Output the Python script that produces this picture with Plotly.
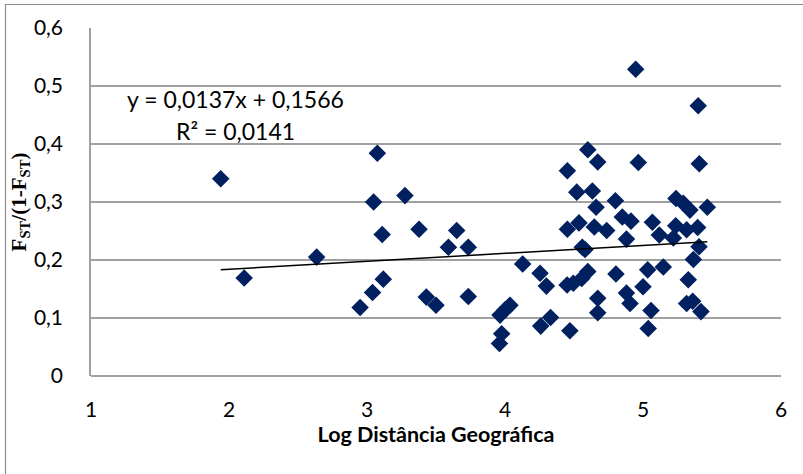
import plotly.graph_objects as go

log_dist = [1.94, 2.11, 2.635, 2.95, 3.04, 3.048, 3.075, 3.11, 3.118, 3.275,
            3.377, 3.43, 3.50, 3.59, 3.65, 3.734, 3.734, 3.96, 3.976, 3.964,
            4.0, 4.036, 4.128, 4.254, 4.30, 4.259, 4.33, 4.47, 4.452, 4.52,
            4.452, 4.536, 4.56, 4.58, 4.495, 4.556, 4.60, 4.45, 4.60, 4.672,
            4.633, 4.66, 4.647, 4.737, 4.672, 4.672, 4.80, 4.804, 4.85, 4.913,
            4.88, 4.88, 4.906, 4.947, 4.966, 5.068, 5.118, 5.034, 5.00, 5.147,
            5.058, 5.038, 5.239, 5.292, 5.34, 5.237, 5.22, 5.316, 5.396, 5.40,
            5.408, 5.466, 5.406, 5.365, 5.328, 5.316, 5.36, 5.42]
fst_ratio = [0.340, 0.169, 0.205, 0.118, 0.144, 0.300, 0.384, 0.244, 0.167, 0.311,
             0.253, 0.136, 0.122, 0.222, 0.251, 0.222, 0.137, 0.056, 0.073, 0.105,
             0.114, 0.122, 0.193, 0.177, 0.155, 0.086, 0.101, 0.078, 0.354, 0.317,
             0.253, 0.264, 0.222, 0.218, 0.160, 0.168, 0.180, 0.157, 0.390, 0.369,
             0.319, 0.291, 0.257, 0.251, 0.134, 0.109, 0.302, 0.176, 0.274, 0.267,
             0.236, 0.143, 0.125, 0.529, 0.368, 0.265, 0.243, 0.183, 0.154, 0.188,
             0.113, 0.082, 0.306, 0.298, 0.286, 0.259, 0.238, 0.252, 0.256, 0.466,
             0.366, 0.291, 0.223, 0.201, 0.166, 0.125, 0.129, 0.111]

slope = 0.0137
intercept = 0.1566
eq_label = "y = 0,0137x + 0,1566"
r2_label = "R² = 0,0141"
x_ticks = [1, 2, 3, 4, 5, 6]
y_ticks = [0, 0.1, 0.2, 0.3, 0.4, 0.5, 0.6]
y_tick_text = ["0", "0,1", "0,2", "0,3", "0,4", "0,5", "0,6"]

xmin, xmax = min(log_dist), max(log_dist)
trend_x = [xmin, xmax]
trend_y = [slope * v + intercept for v in trend_x]

fig = go.Figure()
fig.add_trace(go.Scatter(x=log_dist, y=fst_ratio, mode="markers",
                         marker=dict(symbol="diamond", size=13.5, color="#002060",
                                     line=dict(width=0)),
                         showlegend=False, cliponaxis=False))
fig.add_trace(go.Scatter(x=trend_x, y=trend_y, mode="lines",
                         line=dict(color="black", width=1.5), showlegend=False))

font_main = "Lato, 'Open Sans', sans-serif"
fig.update_layout(
    width=803, height=474,
    margin=dict(l=91, r=22, t=28, b=98),
    paper_bgcolor="white", plot_bgcolor="white",
    font=dict(family=font_main, color="black"),
    xaxis=dict(range=[1, 6], tickvals=x_ticks, showgrid=False, zeroline=False,
               showline=False, ticks="", ticklabelstandoff=19,
               tickfont=dict(size=21, family=font_main),
               title=dict(text="<b>Log Distância Geográfica</b>",
                          font=dict(size=21.5, family=font_main), standoff=0)),
    yaxis=dict(range=[0, 0.6], tickvals=y_ticks, ticktext=y_tick_text,
               showgrid=True, gridcolor="#a0a0a0", gridwidth=1.5,
               zeroline=True, zerolinecolor="#a0a0a0", zerolinewidth=1.5,
               showline=True, linecolor="#a0a0a0", linewidth=1.5,
               ticks="", ticklabelstandoff=22,
               tickfont=dict(size=21, family=font_main),
               title=dict(text="<b>F<sub>ST</sub>/(1-F<sub>ST</sub>)</b>",
                          font=dict(size=21, family="'Liberation Serif', serif"),
                          standoff=2)),
)

fig.add_annotation(x=2.05, y=0.4776, xref="x", yref="y", text=eq_label,
                   showarrow=False, xanchor="center", yanchor="middle",
                   font=dict(size=23, family=font_main))
fig.add_annotation(x=2.05, y=0.4224, xref="x", yref="y", text=r2_label,
                   showarrow=False, xanchor="center", yanchor="middle",
                   font=dict(size=23, family=font_main))

# outer chart border
fig.add_shape(type="rect", xref="paper", yref="paper",
              x0=(5.5 - 91) / 690, x1=(830 - 91) / 690,
              y0=(376 - 500) / 348, y1=(376 - 4.5) / 348,
              line=dict(color="#8c8c8c", width=1.2), layer="below")

fig.write_html("out.html", config={"displayModeBar": False},
               post_script="document.body.style.margin='0';document.body.style.overflow='hidden';")
